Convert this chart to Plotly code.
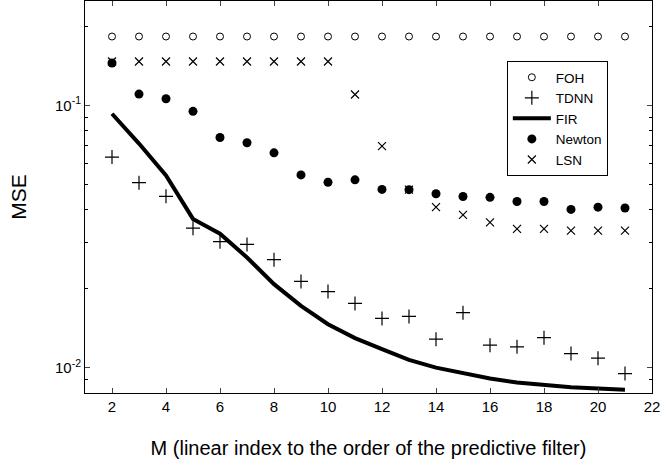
import plotly.graph_objects as go

M = list(range(2, 22))

foh = [0.183] * 20
lsn = [0.147, 0.147, 0.147, 0.147, 0.147, 0.147, 0.147, 0.147, 0.147,
       0.110, 0.0699, 0.0477, 0.0409, 0.0382, 0.0358, 0.0338, 0.0338, 0.0333, 0.0333, 0.0333]
newton = [0.145, 0.1104, 0.106, 0.0949, 0.0754, 0.0720, 0.0659, 0.0543, 0.0509,
          0.0520, 0.0478, 0.0477, 0.0460, 0.0449, 0.0446, 0.0430, 0.0430, 0.0401, 0.0409, 0.0406]
tdnn = [0.0635, 0.0507, 0.045, 0.034, 0.0302, 0.0295, 0.0258, 0.0213, 0.0195,
        0.01757, 0.0154, 0.01567, 0.01283, 0.0162, 0.01217, 0.0120, 0.0130, 0.01131, 0.01086, 0.00949]
fir = [0.0929, 0.0715, 0.054, 0.0369, 0.0324, 0.0263, 0.0208, 0.0172, 0.01464,
       0.01296, 0.01175, 0.0107, 0.0100, 0.00949, 0.00908, 0.00877, 0.00857, 0.00842, 0.00832, 0.00824]

x_ticks = [2, 4, 6, 8, 10, 12, 14, 16, 18, 20, 22]
y_ticks = [0.01, 0.1]
y_ticktext = ["10<sup>-2</sup>", "10<sup>-1</sup>"]
y_minor = [0.008, 0.009, 0.02, 0.03, 0.04, 0.05, 0.06, 0.07, 0.08, 0.09, 0.2]

fig = go.Figure()
fig.add_trace(go.Scatter(x=M, y=foh, mode="markers", name="FOH",
                         marker=dict(symbol="circle-open", size=7, color="black",
                                     line=dict(width=1, color="black"))))
fig.add_trace(go.Scatter(x=M, y=tdnn, mode="markers", name="TDNN",
                         marker=dict(symbol="cross-thin", size=10, color="black",
                                     line=dict(width=1.2, color="black"))))
fig.add_trace(go.Scatter(x=M, y=fir, mode="lines", name="FIR",
                         line=dict(color="black", width=4)))
fig.add_trace(go.Scatter(x=M, y=newton, mode="markers", name="Newton",
                         marker=dict(symbol="circle", size=9, color="black")))
fig.add_trace(go.Scatter(x=M, y=lsn, mode="markers", name="LSN",
                         marker=dict(symbol="x-thin", size=8, color="black",
                                     line=dict(width=1.2, color="black"))))

font = "Liberation Sans, Arial, sans-serif"
fig.update_layout(
    width=660, height=463,
    margin=dict(l=85, r=8, t=1, b=70),
    paper_bgcolor="white", plot_bgcolor="white",
    font=dict(family=font, color="black", size=15),
    showlegend=True,
    legend=dict(x=0.744, y=0.847, xanchor="left", yanchor="top",
                bordercolor="black", borderwidth=1, bgcolor="white",
                font=dict(size=13.5, family=font, color="black"), tracegroupgap=0,
                itemwidth=38),
    xaxis=dict(range=[1, 22], tickvals=x_ticks, ticks="inside", ticklen=5,
               showline=True, linecolor="black", linewidth=1, mirror="ticks",
               showgrid=False, zeroline=False, tickfont=dict(size=15),
               automargin=False, ticklabeloverflow="allow",
               title=dict(text="M (linear index to the order of the predictive filter)",
                          font=dict(size=20), standoff=26)),
    yaxis=dict(type="log", range=[-2.09691, -0.60206], tickvals=y_ticks,
               ticktext=y_ticktext, ticks="inside", ticklen=5,
               showline=True, linecolor="black", linewidth=1, mirror="ticks",
               showgrid=False, zeroline=False, tickfont=dict(size=15),
               automargin=False,
               minor=dict(tickvals=y_minor, ticks="inside", ticklen=3,
                          tickcolor="black", showgrid=False),
               title=dict(text="MSE", font=dict(size=21), standoff=22)),
)

fig.write_html("out.html", config={"displayModeBar": False},
               post_script="document.body.style.margin='0';document.body.style.overflow='hidden';")
